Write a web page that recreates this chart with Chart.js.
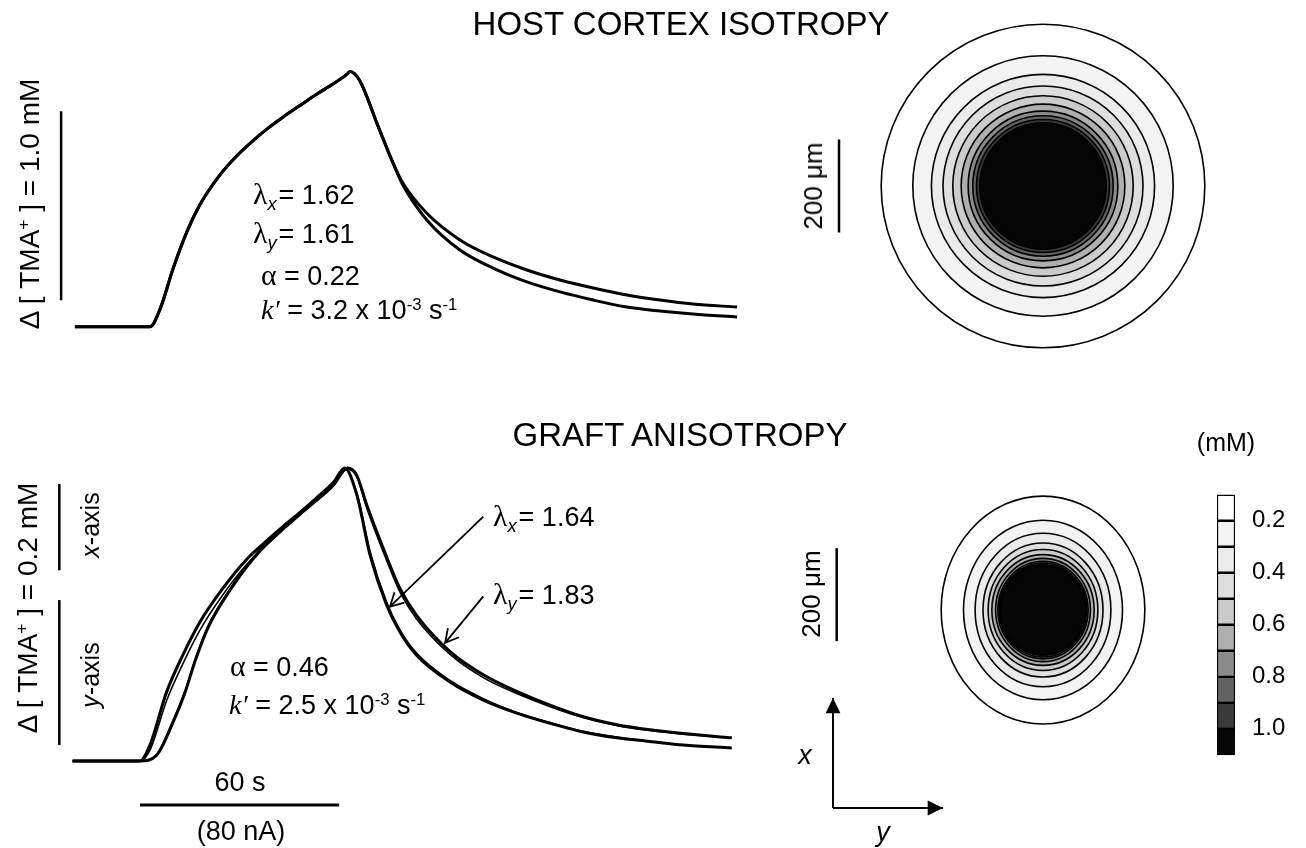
<!DOCTYPE html>
<html>
<head>
<meta charset="utf-8">
<script src="https://cdn.jsdelivr.net/npm/chart.js@4.4.1/dist/chart.umd.min.js"></script>
<style>
  body { margin: 0; background: #fff; }
  #fig { position: relative; width: 1306px; height: 848px; overflow: hidden;
         font-family: "Liberation Sans", Arial, sans-serif; color: #000; }
  #fig canvas { position: absolute; }
  .t { position: absolute; white-space: nowrap; line-height: 1; transform: translateY(-50%); font-size: 27px; }
  .c { position: absolute; white-space: nowrap; line-height: 1; transform: translate(-50%, -50%); font-size: 27px; }
  .rot { position: absolute; white-space: nowrap; line-height: 1; transform: translate(-50%, -50%) rotate(-90deg); font-size: 28px; }
  .title { font-size: 33px; }
  .g { font-family: "Liberation Serif", "DejaVu Serif", serif; font-size: 1.1em; }
  .kk { font-family: "Liberation Serif", "DejaVu Serif", serif; font-style: italic; font-size: 1.05em; }
  .sb { font-size: 0.68em; position: relative; top: 0.3em; font-style: italic; margin-right: 2px; }
  .sp { font-size: 0.62em; position: relative; top: -0.55em; }
  i { font-style: italic; }
</style>
</head>
<body>
<div id="fig">
  <canvas id="hostTrace"></canvas>
  <canvas id="graftTrace"></canvas>
  <canvas id="hostMap"></canvas>
  <canvas id="graftMap"></canvas>
  <canvas id="colorbar"></canvas>

  <div class="c title" style="left:681px; top:23px;">HOST CORTEX ISOTROPY</div>
  <div class="c title" style="left:680px; top:434px;">GRAFT ANISOTROPY</div>

  <div class="rot" style="left:30px; top:204px;">&Delta; [ TMA<span class="sp">+</span> ] = 1.0 mM</div>
  <div class="t" style="left:253px; top:195px;"><span class="g">&lambda;</span><span class="sb">x</span>= 1.62</div>
  <div class="t" style="left:253px; top:234px;"><span class="g">&lambda;</span><span class="sb">y</span>= 1.61</div>
  <div class="t" style="left:261px; top:276px;"><span class="g">&alpha;</span> = 0.22</div>
  <div class="t" style="left:261px; top:310px;"><span class="kk">k&prime;</span> = 3.2 x 10<span class="sp">-3</span> s<span class="sp">-1</span></div>

  <div class="rot" style="left:28px; top:608px;">&Delta; [ TMA<span class="sp">+</span> ] = 0.2 mM</div>
  <div class="rot" style="left:90px; top:525px; font-size:25px;"><i>x</i>-axis</div>
  <div class="rot" style="left:90px; top:675px; font-size:25px;"><i>y</i>-axis</div>
  <div class="t" style="left:230px; top:667px;"><span class="g">&alpha;</span> = 0.46</div>
  <div class="t" style="left:229px; top:705px;"><span class="kk">k&prime;</span> = 2.5 x 10<span class="sp">-3</span> s<span class="sp">-1</span></div>
  <div class="t" style="left:493px; top:517px;"><span class="g">&lambda;</span><span class="sb">x</span>= 1.64</div>
  <div class="t" style="left:493px; top:595px;"><span class="g">&lambda;</span><span class="sb">y</span>= 1.83</div>
  <div class="c" style="left:240px; top:782px;">60 s</div>
  <div class="c" style="left:241px; top:831px;">(80 nA)</div>

  <div class="rot" style="left:813px; top:186px; font-size:26px;">200 &mu;m</div>
  <div class="rot" style="left:811px; top:594px; font-size:26px;">200 &mu;m</div>
  <div class="c" style="left:805px; top:755px;"><i>x</i></div>
  <div class="c" style="left:883px; top:832px;"><i>y</i></div>
  <div class="c" style="left:1226px; top:442px; font-size:25px;">(mM)</div>
</div>

<script>
// ---------- values ----------
// host cortex: time (s) from current onset, Δ[TMA+] (mM)
const hostTime = [-22.9, 0, 3.0, 7.1, 11.2, 15.2, 20.3, 25.4, 30.5, 35.6, 40.6, 45.7, 50.8, 55.9, 60.0,
                  61.0, 64.0, 69.1, 74.1, 77.1, 84.4, 94.5, 104.6, 114.9, 125.0, 135.1, 145.4, 155.5, 165.5, 179.0];
const hostCurveA = [0, 0, 0.09, 0.31, 0.50, 0.645, 0.78, 0.885, 0.97, 1.045, 1.11, 1.17, 1.23, 1.285, 1.335,
                    1.35, 1.30, 1.08, 0.866, 0.76, 0.60, 0.459, 0.369, 0.30, 0.247, 0.205, 0.168, 0.141, 0.120, 0.104];
const hostCurveB = [0, 0, 0.09, 0.31, 0.50, 0.645, 0.78, 0.885, 0.97, 1.045, 1.11, 1.17, 1.23, 1.285, 1.335,
                    1.35, 1.30, 1.08, 0.866, 0.75, 0.565, 0.406, 0.31, 0.237, 0.184, 0.141, 0.104, 0.083, 0.067, 0.051];

// graft: x-axis record (faster) and y-axis record (slower), data and fit
const graftXTime = [-20.3, 0, 3.0, 8.0, 12.9, 18.1, 24.6, 32.1, 38.2, 43.2, 48.2, 53.2, 58.2, 61.7,
                    65.3, 69.3, 74.3, 78.3, 83.3, 93.4, 103.4, 113.5, 123.5, 133.5, 143.6, 153.6, 163.6, 178.2];
const graftXData = [0, 0, 0.022, 0.095, 0.146, 0.192, 0.236, 0.278, 0.304, 0.324, 0.343, 0.363, 0.384, 0.404,
                    0.367, 0.284, 0.215, 0.178, 0.146, 0.109, 0.084, 0.066, 0.052, 0.040, 0.032, 0.027, 0.022, 0.018];
const graftXFit  = [0, 0, 0.015, 0.083, 0.134, 0.181, 0.227, 0.271, 0.298, 0.319, 0.339, 0.360, 0.382, 0.403,
                    0.370, 0.289, 0.219, 0.181, 0.149, 0.111, 0.086, 0.067, 0.053, 0.041, 0.033, 0.027, 0.022, 0.018];
const graftYTime = [-20.3, 0, 5.0, 9.8, 13.6, 16.6, 20.6, 26.6, 34.1, 44.2, 52.0, 58.2, 62.5,
                    65.3, 68.3, 73.3, 78.3, 83.3, 93.4, 103.4, 113.5, 123.5, 133.5, 143.6, 153.6, 163.6, 178.2];
const graftYData = [0, 0, 0.008, 0.052, 0.095, 0.138, 0.185, 0.232, 0.279, 0.326, 0.355, 0.380, 0.404,
                    0.394, 0.353, 0.293, 0.238, 0.201, 0.151, 0.119, 0.096, 0.077, 0.061, 0.050, 0.043, 0.038, 0.032];
const graftYFit  = [0, 0, 0.009, 0.054, 0.097, 0.140, 0.187, 0.234, 0.281, 0.327, 0.355, 0.380, 0.403,
                    0.392, 0.349, 0.288, 0.233, 0.196, 0.147, 0.115, 0.093, 0.075, 0.060, 0.049, 0.042, 0.037, 0.032];

// scale bars (data units of each panel)
const hostBarMM = [0.14, 1.14];     // 1.0 mM
const graftBarYMM = [0.022, 0.222]; // 0.2 mM, y-axis record
const graftBarXMM = [0.263, 0.382]; // 0.2 mM, x-axis record (lower gain)
const pulseSec = [0, 60];           // 60 s, 80 nA

// contour maps: levels (mM) and ring radii (µm)
const contourLevels = [0.1, 0.2, 0.3, 0.4, 0.5, 0.6, 0.7, 0.8, 0.9, 1.0];
const hostRadius = [348, 280, 240, 215, 194, 176, 161, 151, 143, 136];
const graftRadiusY = [219, 171, 146, 129, 118, 110, 102, 97, 94, 92];   // horizontal
const graftRadiusX = [245, 193, 165, 144, 130, 119, 111, 105, 101, 97]; // vertical
const bandGreys = ['#ffffff', '#f3f3f3', '#ebebeb', '#dedede', '#cbcbcb', '#afafaf', '#8b8b8b', '#626262', '#3a3a3a', '#050505'];
const colorbarTicks = [0.2, 0.4, 0.6, 0.8, 1.0];
const mapBarUm = [-100, 100];

// ---------- layout ----------
const FONT = '"Liberation Sans", Arial, sans-serif';
const hostBox  = {left: 0, top: 40, width: 760, height: 320, x0: 150, kx: 3.28, y0: 326.7, ky: 189};
const graftBox = {left: 0, top: 440, width: 760, height: 408, x0: 140, kx: 3.32, y0: 761, ky: 725};
const hostMapBox  = {left: 790, top: 0, width: 506, height: 372, x0: 1043, kx: 0.465, y0: 186, ky: 0.465};
const graftMapBox = {left: 790, top: 424, width: 506, height: 424, x0: 1043, kx: 0.465, y0: 610, ky: 0.465};

function place(id, b) {
  const c = document.getElementById(id);
  c.width = b.width; c.height = b.height;
  c.style.left = b.left + 'px'; c.style.top = b.top + 'px';
  c.style.width = b.width + 'px'; c.style.height = b.height + 'px';
  return c;
}
function scalesFor(b) {
  return {
    x: {type: 'linear', display: false, min: (b.left - b.x0) / b.kx, max: (b.left + b.width - b.x0) / b.kx},
    y: {type: 'linear', display: false, min: (b.y0 - b.top - b.height) / b.ky, max: (b.y0 - b.top) / b.ky}
  };
}
const pts = (xs, ys) => xs.map((x, i) => ({x: x, y: ys[i]}));

const baseOptions = {
  responsive: false,
  animation: false,
  layout: {padding: 0},
  plugins: {legend: {display: false}, tooltip: {enabled: false}},
  elements: {point: {radius: 0}}
};

function trace(data, width) {
  return {data: data, borderColor: '#000', borderWidth: width, pointRadius: 0,
          cubicInterpolationMode: 'monotone', fill: false};
}
function straight(data, width, head) {
  return {data: data, borderColor: '#000', borderWidth: width, pointRadius: 0,
          tension: 0, fill: false, arrowHead: head};
}

// arrow heads at the last point of a dataset
const arrowHeads = {
  id: 'arrowHeads',
  afterDatasetsDraw(chart) {
    const ctx = chart.ctx;
    chart.data.datasets.forEach((ds, i) => {
      if (!ds.arrowHead) return;
      const el = chart.getDatasetMeta(i).data;
      const a = el[el.length - 2], b = el[el.length - 1];
      const ang = Math.atan2(b.y - a.y, b.x - a.x);
      const L = ds.arrowHead.length, w = ds.arrowHead.spread;
      ctx.save();
      ctx.strokeStyle = '#000'; ctx.fillStyle = '#000';
      ctx.lineWidth = ds.borderWidth;
      ctx.beginPath();
      ctx.moveTo(b.x - L * Math.cos(ang - w), b.y - L * Math.sin(ang - w));
      ctx.lineTo(b.x, b.y);
      ctx.lineTo(b.x - L * Math.cos(ang + w), b.y - L * Math.sin(ang + w));
      if (ds.arrowHead.filled) { ctx.closePath(); ctx.fill(); } else { ctx.stroke(); }
      ctx.restore();
    });
  }
};

// filled contour rings, drawn through the chart's scales
function contourPlugin(rx, ry) {
  return {
    id: 'contourRings',
    beforeDatasetsDraw(chart) {
      const {ctx, scales: {x, y}} = chart;
      const cx = x.getPixelForValue(0), cy = y.getPixelForValue(0);
      ctx.save();
      contourLevels.forEach((lv, i) => {
        const a = Math.abs(x.getPixelForValue(rx[i]) - cx);
        const b = Math.abs(y.getPixelForValue(ry[i]) - cy);
        ctx.beginPath();
        ctx.ellipse(cx, cy, a, b, 0, 0, Math.PI * 2);
        ctx.fillStyle = bandGreys[i];
        ctx.fill();
        ctx.lineWidth = 1.6;
        ctx.strokeStyle = '#000';
        ctx.stroke();
      });
      ctx.restore();
    }
  };
}

// ---------- host cortex traces ----------
new Chart(place('hostTrace', hostBox), {
  type: 'line',
  data: {datasets: [
    trace(pts(hostTime, hostCurveA), 3),
    trace(pts(hostTime, hostCurveB), 3),
    straight([{x: -27.1, y: hostBarMM[0]}, {x: -27.1, y: hostBarMM[1]}], 2.5)
  ]},
  options: {...baseOptions, scales: scalesFor(hostBox)}
});

// ---------- graft traces ----------
new Chart(place('graftTrace', graftBox), {
  type: 'line',
  data: {datasets: [
    trace(pts(graftXTime, graftXData), 3),
    trace(pts(graftXTime, graftXFit), 1.6),
    trace(pts(graftYTime, graftYData), 3),
    trace(pts(graftYTime, graftYFit), 1.6),
    straight([{x: -24.3, y: graftBarXMM[0]}, {x: -24.3, y: graftBarXMM[1]}], 2.5),
    straight([{x: -24.3, y: graftBarYMM[0]}, {x: -24.3, y: graftBarYMM[1]}], 2.5),
    straight([{x: pulseSec[0], y: -0.0607}, {x: pulseSec[1], y: -0.0607}], 3),
    straight([{x: 103.4, y: 0.337}, {x: 75.3, y: 0.213}], 1.8, {length: 15, spread: 0.5}),
    straight([{x: 103.4, y: 0.227}, {x: 91.9, y: 0.163}], 1.8, {length: 15, spread: 0.5})
  ]},
  options: {...baseOptions, scales: scalesFor(graftBox)},
  plugins: [arrowHeads]
});

// ---------- contour maps ----------
new Chart(place('hostMap', hostMapBox), {
  type: 'scatter',
  data: {datasets: [
    {...straight([{x: -438.7, y: mapBarUm[0]}, {x: -438.7, y: mapBarUm[1]}], 2.5), showLine: true}
  ]},
  options: {...baseOptions, scales: scalesFor(hostMapBox)},
  plugins: [contourPlugin(hostRadius, hostRadius)]
});

new Chart(place('graftMap', graftMapBox), {
  type: 'scatter',
  data: {datasets: [
    {...straight([{x: -443.7, y: mapBarUm[0] + 33}, {x: -443.7, y: mapBarUm[1] + 33}], 2.5), showLine: true},
    {...straight([{x: -451.6, y: -425.8}, {x: -451.6, y: -189.2}], 2, {length: 17, spread: 0.45, filled: true}), showLine: true},
    {...straight([{x: -451.6, y: -425.8}, {x: -215.0, y: -425.8}], 2, {length: 17, spread: 0.45, filled: true}), showLine: true}
  ]},
  options: {...baseOptions, scales: scalesFor(graftMapBox)},
  plugins: [contourPlugin(graftRadiusY, graftRadiusX), arrowHeads]
});

// ---------- colour bar ----------
const cbTop = 440, cbHeight = 360, cbZeroPx = 468.3, cbPxPerMM = 315;
new Chart(place('colorbar', {left: 1217, top: cbTop, width: 78, height: cbHeight}), {
  type: 'bar',
  data: {
    labels: ['mM'],
    datasets: contourLevels.map((lv, i) => ({
      data: [[lv, lv + 0.1]],
      backgroundColor: bandGreys[i],
      borderColor: '#000',
      borderWidth: 1.5,
      borderSkipped: false,
      grouped: false,
      categoryPercentage: 1,
      barPercentage: 1
    }))
  },
  options: {...baseOptions,
    scales: {
      x: {display: false},
      y: {
        position: 'right',
        reverse: true,
        min: 0.1 - (cbZeroPx - cbTop) / cbPxPerMM,
        max: 0.1 + (cbTop + cbHeight - cbZeroPx) / cbPxPerMM,
        grid: {display: false, drawTicks: false},
        border: {display: false},
        afterBuildTicks: (ax) => { ax.ticks = colorbarTicks.map(v => ({value: v})); },
        afterFit: (ax) => { ax.width = 60; },
        ticks: {padding: 17, color: '#000', font: {family: FONT, size: 24},
                callback: (v) => Number(v).toFixed(1)}
      }
    }
  }
});
</script>
</body>
</html>
